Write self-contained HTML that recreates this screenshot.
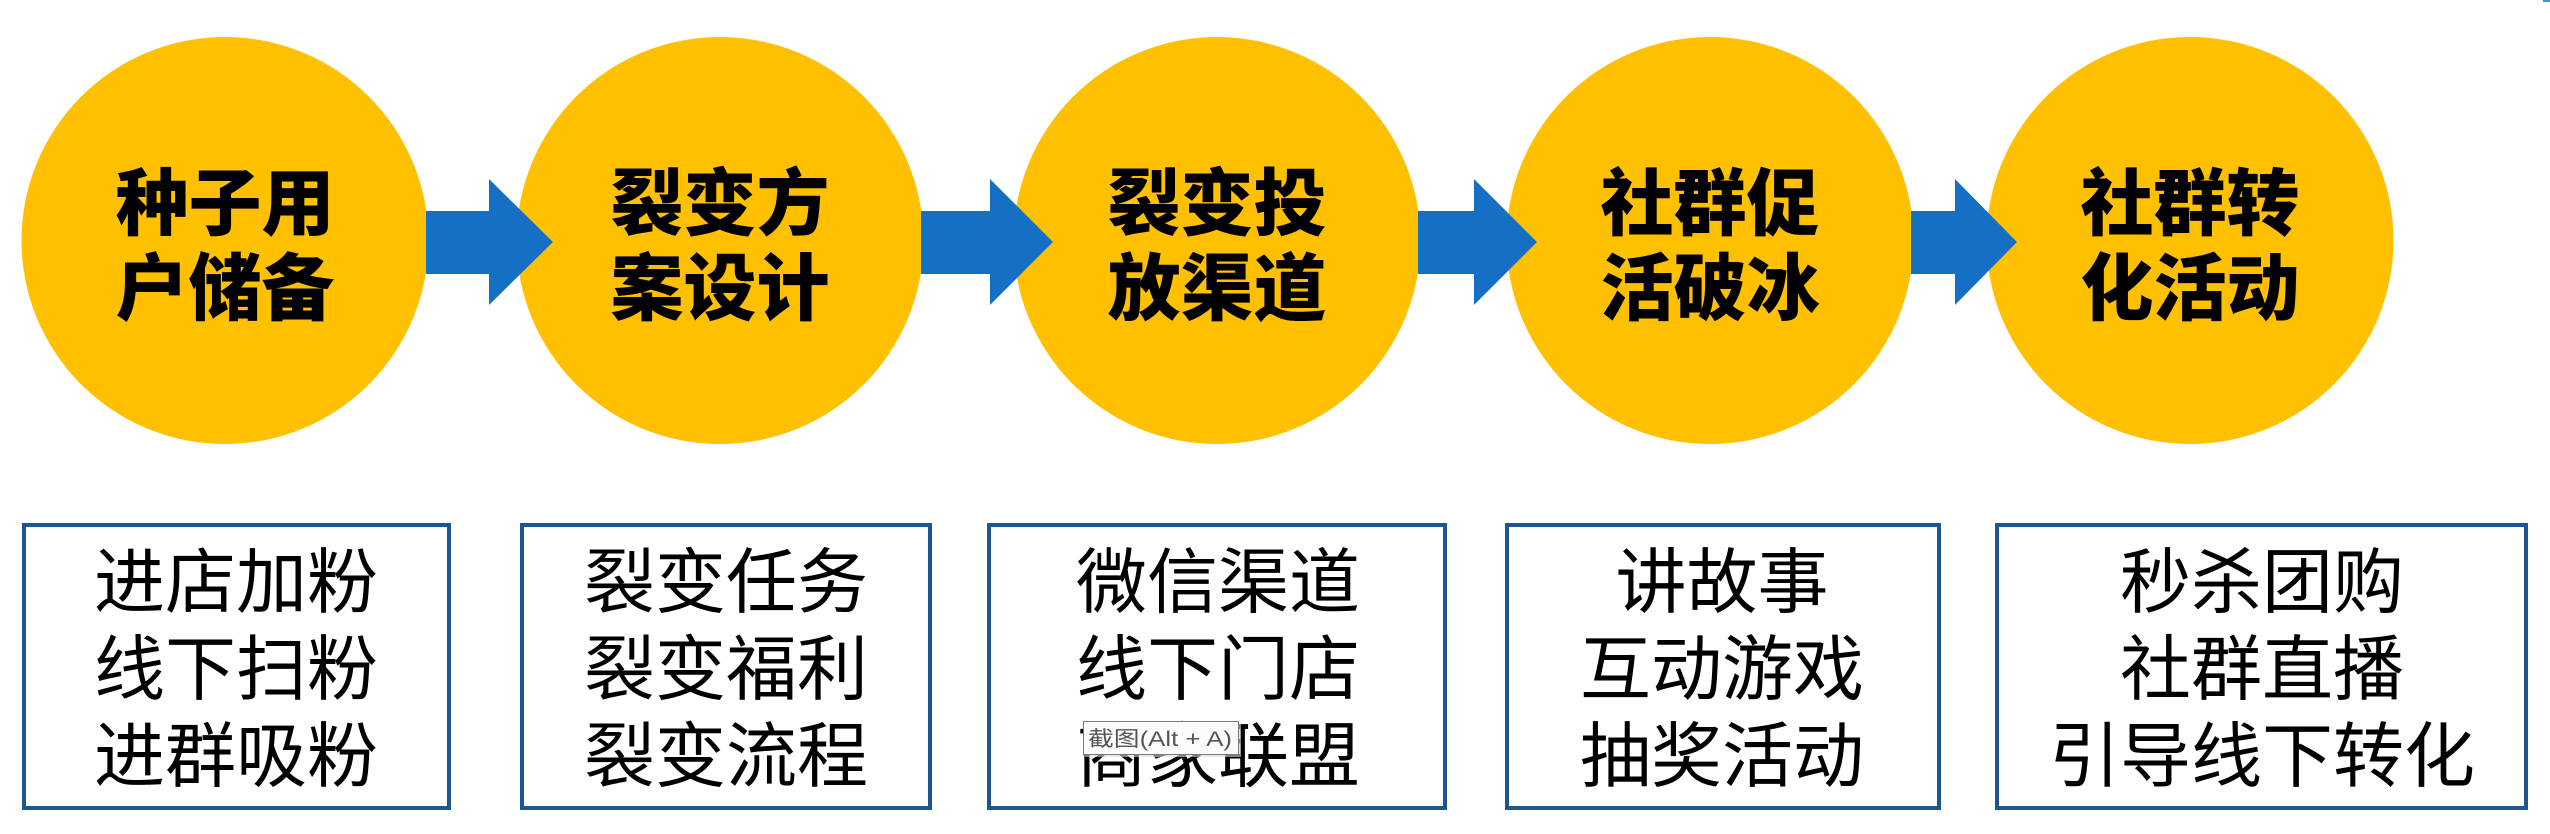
<!DOCTYPE html>
<html>
<head>
<meta charset="utf-8">
<style>
  html, body { margin:0; padding:0; background:#ffffff; }
  body { width:2550px; height:834px; overflow:hidden; }
  svg { display:block; }
  .ct { font-family:"Liberation Sans","Noto Sans CJK SC","WenQuanYi Zen Hei",sans-serif; font-weight:900; font-size:73px; fill:#000; }
  .bt { font-family:"Liberation Sans","Noto Sans CJK SC","WenQuanYi Zen Hei",sans-serif; font-weight:400; font-size:71px; fill:#000; }
  .tt { font-family:"Liberation Sans","Noto Sans CJK SC",sans-serif; font-size:21px; fill:#555; }
</style>
</head>
<body>
<svg width="2550" height="834" viewBox="0 0 2550 834" xmlns="http://www.w3.org/2000/svg">
  <rect x="0" y="0" width="2550" height="834" fill="#ffffff"/>

  <!-- circles -->
  <g fill="#FFC000">
    <circle cx="225" cy="240.5" r="203.5"/>
    <circle cx="720" cy="240.5" r="203.5"/>
    <circle cx="1217" cy="240.5" r="203.5"/>
    <circle cx="1710" cy="240.5" r="203.5"/>
    <circle cx="2190" cy="240.5" r="203.5"/>
  </g>

  <!-- arrows -->
  <g fill="#1570C5">
    <polygon points="426,211 489,211 489,179 553,242 489,305 489,274 426,274"/>
    <polygon points="921,211 990,211 990,179 1053,242 990,305 990,274 921,274"/>
    <polygon points="1418,211 1474,211 1474,179 1537,242 1474,305 1474,274 1418,274"/>
    <polygon points="1911,211 1955,211 1955,179 2017,242 1955,305 1955,274 1911,274"/>
  </g>

  <!-- circle labels -->
  <g class="ct" text-anchor="middle">
    <text x="225" y="229">种子用</text>
    <text x="225" y="314">户储备</text>
    <text x="720" y="229">裂变方</text>
    <text x="720" y="314">案设计</text>
    <text x="1217" y="229">裂变投</text>
    <text x="1217" y="314">放渠道</text>
    <text x="1710" y="229">社群促</text>
    <text x="1710" y="314">活破冰</text>
    <text x="2190" y="229">社群转</text>
    <text x="2190" y="314">化活动</text>
  </g>

  <!-- boxes -->
  <g fill="#ffffff" stroke="#1D5591" stroke-width="4">
    <rect x="24" y="525" width="425" height="283"/>
    <rect x="522" y="525" width="408" height="283"/>
    <rect x="989" y="525" width="456" height="283"/>
    <rect x="1507" y="525" width="432" height="283"/>
    <rect x="1997" y="525" width="529" height="283"/>
  </g>

  <!-- box labels -->
  <g class="bt" text-anchor="middle">
    <text x="236" y="607">进店加粉</text>
    <text x="236" y="694">线下扫粉</text>
    <text x="236" y="781">进群吸粉</text>

    <text x="726" y="607">裂变任务</text>
    <text x="726" y="694">裂变福利</text>
    <text x="726" y="781">裂变流程</text>

    <text x="1218" y="607">微信渠道</text>
    <text x="1218" y="694">线下门店</text>
    <text x="1218" y="781">商家联盟</text>

    <text x="1722" y="607">讲故事</text>
    <text x="1722" y="694">互动游戏</text>
    <text x="1722" y="781">抽奖活动</text>

    <text x="2262" y="607">秒杀团购</text>
    <text x="2262" y="694">社群直播</text>
    <text x="2262" y="781">引导线下转化</text>
  </g>

  <!-- screenshot tooltip overlay -->
  <rect x="1085" y="723" width="156" height="34" fill="#d8d8d8" opacity="0.6"/>
  <rect x="1083.5" y="721.5" width="155" height="33" fill="#fbfbfb" stroke="#7a7a7a" stroke-width="1"/>
  <text class="tt" x="1088" y="746" textLength="144" lengthAdjust="spacingAndGlyphs">截图(Alt + A)</text>

  <!-- tiny mark top-right -->
  <rect x="2543" y="0" width="7" height="2" fill="#4a8fd0"/>
</svg>
</body>
</html>
